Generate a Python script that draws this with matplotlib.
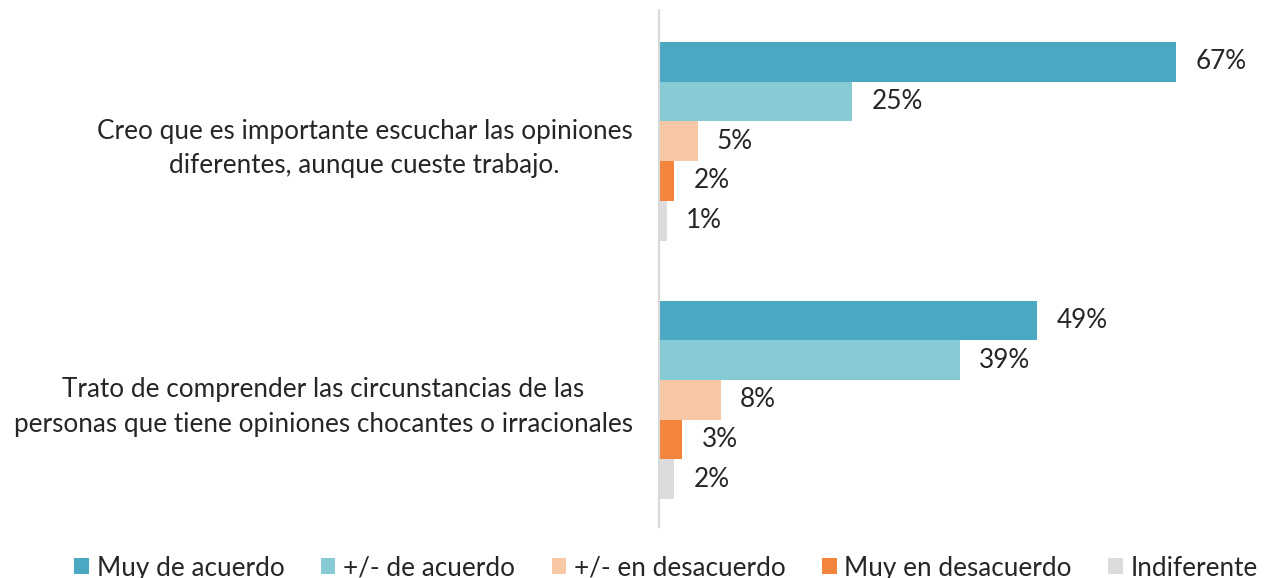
import matplotlib
matplotlib.use("Agg")
import matplotlib.pyplot as plt
import numpy as np

categories = [
    "Creo que es importante escuchar las opiniones\ndiferentes, aunque cueste trabajo.",
    "Trato de comprender las circunstancias de las\npersonas que tiene opiniones chocantes o irracionales",
]
series_names = ["Muy de acuerdo", "+/- de acuerdo", "+/- en desacuerdo", "Muy en desacuerdo", "Indiferente"]
values = [
    [0.67, 0.49],
    [0.25, 0.39],
    [0.05, 0.08],
    [0.02, 0.03],
    [0.01, 0.02],
]
colors = ["#4BA8C3", "#86CAD6", "#F8C7A6", "#F4853D", "#DCDCDE"]

plt.rcParams['font.family'] = ['Lato', 'DejaVu Sans']
FS = 18.8

fig = plt.figure(figsize=(12.64, 5.78), dpi=100)
ax = fig.add_axes([659/1264, 1-527/578, (1238-659)/1264, 517/578])

bh = 0.1535
y = np.arange(len(categories))
for i, (name, vals, c) in enumerate(zip(series_names, values, colors)):
    pos = y + (i - 2) * bh
    ax.barh(pos, vals, height=bh, color=c, label=name)
    for p, v in zip(pos, vals):
        ax.text(v + 0.025, p, f"{round(v*100):.0f}%", va='center', ha='left',
                fontsize=FS, color='#262626', clip_on=False)

ax.set_xlim(0, 0.75)
ax.set_ylim(1.492, -0.508)
ax.set_yticks(y)
ax.set_yticklabels(categories, fontsize=FS, color='#262626')
for t in ax.get_yticklabels():
    t.set_multialignment('center')
    t.set_linespacing(1.48)
ax.tick_params(axis='y', length=0, pad=19)
ax.set_xticks([])
for s in ['top', 'right', 'bottom']:
    ax.spines[s].set_visible(False)
ax.spines['left'].set_color('#D9D9D9')
ax.spines['left'].set_linewidth(1.5)

fig.legend(loc='lower center', bbox_to_anchor=(0.527, -0.045), ncol=5, frameon=False,
           fontsize=FS, handlelength=0.55, handleheight=0.55, handletextpad=0.3,
           columnspacing=1.4, labelcolor='#262626')

fig.savefig("out.png", dpi=100)
